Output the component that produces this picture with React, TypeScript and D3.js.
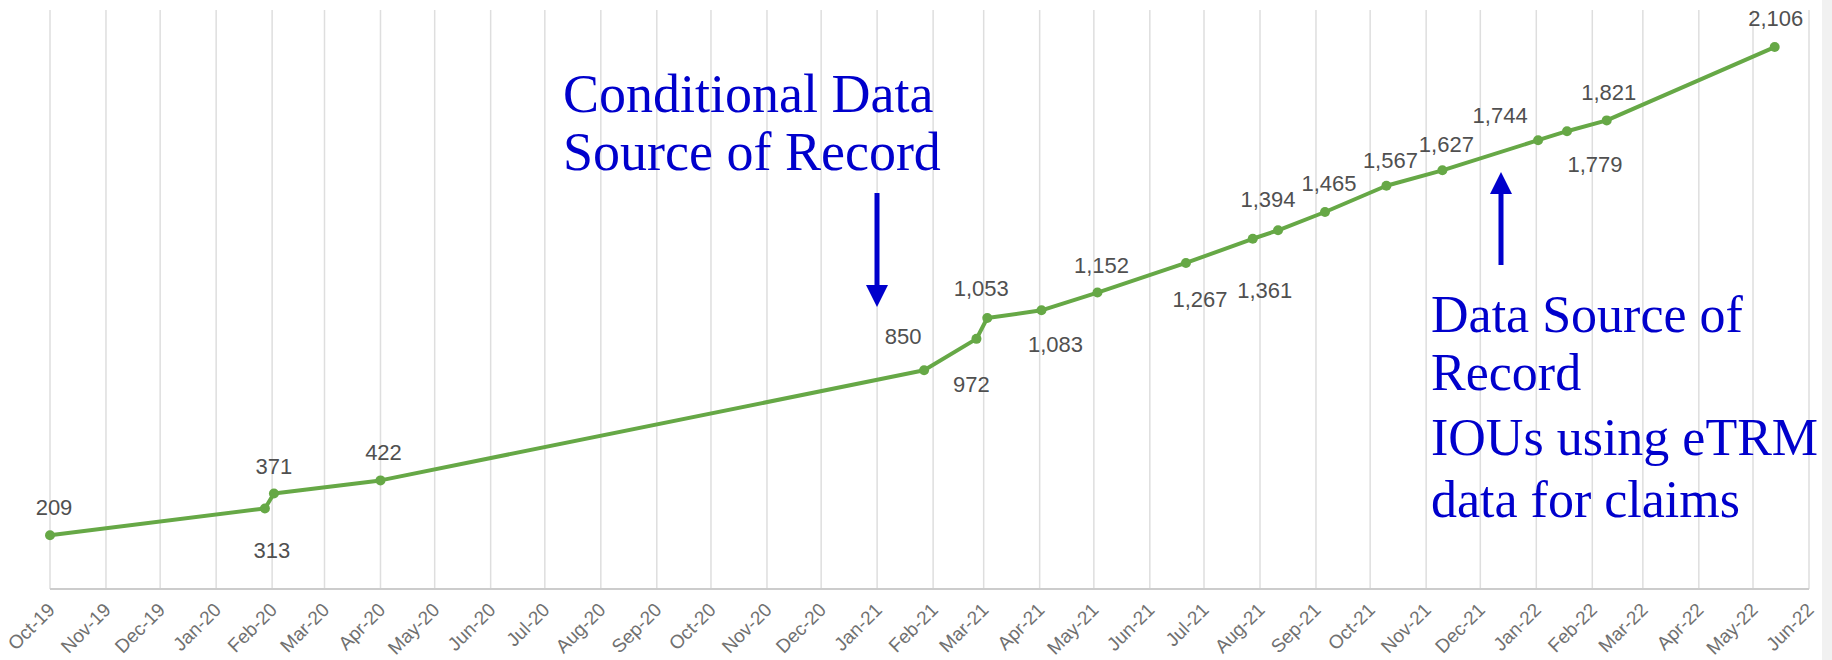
import * as d3 from 'd3'

// dates of each observation and the running count
const dates = [
  '2019-10-01', '2020-01-28', '2020-02-02', '2020-04-01', '2021-01-27',
  '2021-02-25', '2021-03-03', '2021-04-02', '2021-05-03', '2021-06-21',
  '2021-07-28', '2021-08-11', '2021-09-06', '2021-10-10', '2021-11-10',
  '2022-01-02', '2022-01-18', '2022-02-09', '2022-05-13'
]
const values = [
  209, 313, 371, 422, 850, 972, 1053, 1083, 1152, 1267,
  1361, 1394, 1465, 1567, 1627, 1744, 1779, 1821, 2106
]
// label nudges [dx, dy] relative to the point (dy is baseline offset)
const labelNudge: [number, number][] = [
  [4, -20], [7, 50], [0, -20], [3, -20], [-21, -26],
  [-5, 53], [-6, -22], [14, 42], [4, -20], [14, 44],
  [12, 59], [-10, -23], [4, -21], [4, -18], [4, -18],
  [-38, -17], [28, 41], [2, -20], [1, -21]
]
const leftNote = ['Conditional Data', 'Source of Record']
const rightNote = ['Data Source of', 'Record']
const rightNote2 = ['IOUs using eTRM', 'data for claims']

const W = 1832
const H = 660
const fmt = d3.format(',')
const monthFmt = d3.utcFormat('%b-%y')

export default function App() {
  const parsed = dates.map(d => new Date(d + 'T00:00:00Z'))
  const start = new Date('2019-10-01T00:00:00Z')
  const end = new Date('2022-06-01T00:00:00Z')

  const x = d3.scaleUtc().domain([start, end]).range([50, 1809])
  const y = d3.scaleLinear().domain([0, 2250]).range([589, 10])

  const months = d3.utcMonth.range(start, d3.utcDay.offset(end, 1))
  const pts = parsed.map((d, i) => ({ x: x(d), y: y(values[i]), v: values[i] }))
  const line = d3.line<{ x: number; y: number }>().x(d => d.x).y(d => d.y)

  const green = '#66a846'
  const blue = '#0000cc'

  return (
    <svg width={W} height={H} style={{ position: 'absolute', left: 0, top: 0, background: '#fff' }}>
      {months.map((m, i) => (
        <line key={'g' + i} x1={x(m)} x2={x(m)} y1={10} y2={589} stroke="#dedede" strokeWidth={1.5} />
      ))}
      <line x1={50} x2={1809} y1={589} y2={589} stroke="#cccccc" strokeWidth={2} />
      {months.map((m, i) => (
        <text
          key={'t' + i}
          transform={`translate(${x(m) + 6},${611}) rotate(-45)`}
          textAnchor="end"
          fontFamily="Liberation Sans, Arial, sans-serif"
          fontSize={19}
          fill="#707070"
        >
          {monthFmt(m)}
        </text>
      ))}

      <path d={line(pts) || ''} fill="none" stroke={green} strokeWidth={4} strokeLinejoin="round" />
      {pts.map((p, i) => (
        <circle key={'c' + i} cx={p.x} cy={p.y} r={5} fill={green} />
      ))}
      {pts.map((p, i) => (
        <text
          key={'l' + i}
          x={p.x + labelNudge[i][0]}
          y={p.y + labelNudge[i][1]}
          textAnchor="middle"
          fontFamily="Liberation Sans, Arial, sans-serif"
          fontSize={22}
          fill="#505050"
        >
          {fmt(p.v)}
        </text>
      ))}

      {/* annotations */}
      <g fill={blue} fontFamily="Liberation Serif, Times New Roman, serif">
        {leftNote.map((t, i) => (
          <text key={'ln' + i} x={563} y={112 + i * 58} fontSize={54}>{t}</text>
        ))}
        {rightNote.map((t, i) => (
          <text key={'rn' + i} x={1431} y={332 + i * 58} fontSize={52}>{t}</text>
        ))}
        {rightNote2.map((t, i) => (
          <text key={'rn2' + i} x={1431} y={455 + i * 62} fontSize={52}>{t}</text>
        ))}
      </g>
      <rect x={874.5} y={193} width={5} height={94} fill={blue} />
      <polygon points="866,285 888,285 877,307" fill={blue} />
      <rect x={1498.5} y={192} width={5} height={73} fill={blue} />
      <polygon points="1490,194 1512,194 1501,172" fill={blue} />

      <rect x={1822} y={0} width={10} height={H} fill="#f1f1f1" />
    </svg>
  )
}
